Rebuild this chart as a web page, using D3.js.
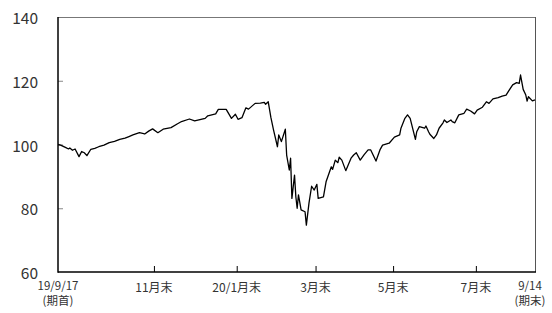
<!DOCTYPE html>
<html>
<head>
<meta charset="utf-8">
<script src="https://cdn.jsdelivr.net/npm/d3@7"></script>
<style>
body{margin:0;background:#fff;}
text{font-family:"Noto Sans CJK JP","Noto Sans",sans-serif;fill:#333;}
</style>
</head>
<body>
<script>
const dates=["2019-09-17","2019-09-19","2019-09-21","2019-09-23","2019-09-25","2019-09-26","2019-09-28","2019-09-30",
"2019-10-03","2019-10-05","2019-10-07","2019-10-09","2019-10-12","2019-10-15","2019-10-18","2019-10-22","2019-10-26","2019-10-30",
"2019-11-03","2019-11-07","2019-11-10","2019-11-13","2019-11-18","2019-11-22","2019-11-25","2019-11-28",
"2019-12-02","2019-12-06","2019-12-12","2019-12-17","2019-12-20","2019-12-26","2019-12-30",
"2020-01-07","2020-01-09","2020-01-15","2020-01-17","2020-01-23","2020-01-27","2020-01-30",
"2020-02-01","2020-02-04","2020-02-07","2020-02-09","2020-02-14","2020-02-18","2020-02-21","2020-02-22","2020-02-24","2020-02-26","2020-02-28",
"2020-03-02","2020-03-03","2020-03-05","2020-03-08","2020-03-09","2020-03-11","2020-03-12","2020-03-13","2020-03-15","2020-03-16","2020-03-17","2020-03-18","2020-03-20","2020-03-23","2020-03-24","2020-03-26","2020-03-28","2020-03-30",
"2020-04-01","2020-04-02","2020-04-06","2020-04-08","2020-04-12","2020-04-13","2020-04-15","2020-04-17","2020-04-18","2020-04-20","2020-04-23","2020-04-27","2020-04-29",
"2020-05-01","2020-05-04","2020-05-07","2020-05-10","2020-05-12","2020-05-16","2020-05-19","2020-05-21","2020-05-26","2020-05-30",
"2020-06-03","2020-06-04","2020-06-07","2020-06-09","2020-06-11","2020-06-15","2020-06-16","2020-06-18","2020-06-22","2020-06-23","2020-06-25","2020-06-26","2020-06-29",
"2020-07-01","2020-07-03","2020-07-06","2020-07-07","2020-07-09","2020-07-12","2020-07-13","2020-07-15","2020-07-18","2020-07-22","2020-07-24","2020-07-27","2020-07-30",
"2020-08-01","2020-08-05","2020-08-08","2020-08-10","2020-08-13","2020-08-17","2020-08-20","2020-08-23","2020-08-25","2020-08-28","2020-08-31",
"2020-09-02","2020-09-03","2020-09-05","2020-09-07","2020-09-08","2020-09-09","2020-09-12","2020-09-14"]
const values=[100.0,99.8,99.4,99.0,98.6,98.9,98.2,98.6,
96.2,97.8,97.4,96.5,98.5,98.8,99.3,99.8,100.6,101.0,
101.6,102.0,102.5,103.0,103.7,103.3,104.2,104.9,
103.7,104.8,105.3,106.5,107.2,108.0,107.4,
108.2,109.0,109.6,111.0,111.0,108.2,109.5,
107.9,108.4,111.5,111.1,112.9,113.0,113.2,112.6,113.4,108.5,104.6,
99.3,103.0,100.9,104.8,96.7,92.0,95.7,83.1,90.4,83.6,80.0,84.2,79.5,78.9,74.7,81.6,86.9,85.7,87.5,
83.1,83.6,88.3,93.0,92.2,95.1,94.3,96.0,95.1,91.8,95.7,96.7,97.4,
95.1,96.8,98.3,98.3,94.8,98.3,99.8,100.4,102.3,103.0,
105.1,108.2,109.3,108.2,101.6,104.0,105.6,105.1,105.8,104.0,103.2,101.9,103.0,
105.1,106.8,107.7,106.9,107.7,107.2,106.8,109.3,109.8,111.1,110.5,109.6,110.8,
111.7,113.4,112.9,114.3,114.7,115.2,115.5,116.8,118.7,119.4,119.2,
121.8,117.3,115.5,113.6,115.0,113.7,114.0,115.2]
const yTicks=[60,80,100,120,140]
const xTickDates=["2019-11-29","2020-01-31","2020-03-31","2020-05-29","2020-07-31"]
const xTickLabels=["11月末","20/1月末","3月末","5月末","7月末"]
const startLabel=["19/9/17","(期首)"]
const endLabel=["9/14","(期末)"]

const parse=d3.timeParse("%Y-%m-%d")
const data=dates.map((d,i)=>({date:parse(d),value:values[i]}))
const width=552,height=313
const mLeft=58,mRight=535,mTop=17,mBottom=272

const xScale=d3.scaleTime()
    .domain([parse(dates[0]),parse(dates[dates.length-1])])
    .range([mLeft,mRight])
const yScale=d3.scaleLinear().domain([60,140]).range([mBottom,mTop])

const svg=d3.select("body").append("svg")
    .attr("width",width)
    .attr("height",height)

// frame
svg.append("line").attr("x1",mLeft).attr("x2",mRight).attr("y1",mTop+0.5).attr("y2",mTop+0.5)
    .attr("stroke","#777").attr("stroke-width",1)
svg.append("line").attr("x1",mRight+0.5).attr("x2",mRight+0.5).attr("y1",mTop).attr("y2",mBottom)
    .attr("stroke","#555").attr("stroke-width",1)

const yAxis=d3.axisRight(yScale).tickValues(yTicks.slice(1,-1)).tickSize(5).tickFormat("")
svg.append("g").attr("transform",`translate(${mLeft},0)`).call(yAxis)
    .call(g=>g.select(".domain").remove())
    .call(g=>g.selectAll("line").attr("stroke","#888"))

svg.append("g").selectAll("text").data(yTicks).enter().append("text")
    .attr("x",38).attr("y",d=>yScale(d))
    .attr("text-anchor","end").attr("dominant-baseline","central")
    .attr("font-size",15.5)
    .text(d=>d)

const xAxis=d3.axisTop(xScale).tickValues(xTickDates.map(parse)).tickSize(6).tickFormat("")
svg.append("g").attr("transform",`translate(0,${mBottom})`).call(xAxis)
    .call(g=>g.select(".domain").remove())
    .call(g=>g.selectAll("line").attr("stroke","#000"))

svg.append("g").selectAll("text").data(xTickDates).enter().append("text")
    .attr("x",d=>xScale(parse(d))).attr("y",292)
    .attr("text-anchor","middle").attr("font-size",12)
    .text((d,i)=>xTickLabels[i])

startLabel.forEach((t,i)=>{
  svg.append("text").attr("x",xScale(parse(dates[0]))).attr("y",289.5+i*15.5)
    .attr("text-anchor","middle").attr("font-size",11.5).text(t)
})
endLabel.forEach((t,i)=>{
  svg.append("text").attr("x",530).attr("y",289.5+i*15.5)
    .attr("text-anchor","middle").attr("font-size",11.5).text(t)
})

const line=d3.line().x(d=>xScale(d.date)).y(d=>yScale(d.value))
svg.append("path").datum(data)
    .attr("d",line)
    .attr("fill","none")
    .attr("stroke","#000")
    .attr("stroke-width",1.3)
    .attr("stroke-linejoin","round")

svg.append("line").attr("x1",mLeft).attr("x2",mLeft).attr("y1",mTop).attr("y2",mBottom+0.75)
    .attr("stroke","#000").attr("stroke-width",1.5)
svg.append("line").attr("x1",mLeft).attr("x2",mRight+1).attr("y1",mBottom).attr("y2",mBottom)
    .attr("stroke","#000").attr("stroke-width",1.5)
</script>
</body>
</html>
